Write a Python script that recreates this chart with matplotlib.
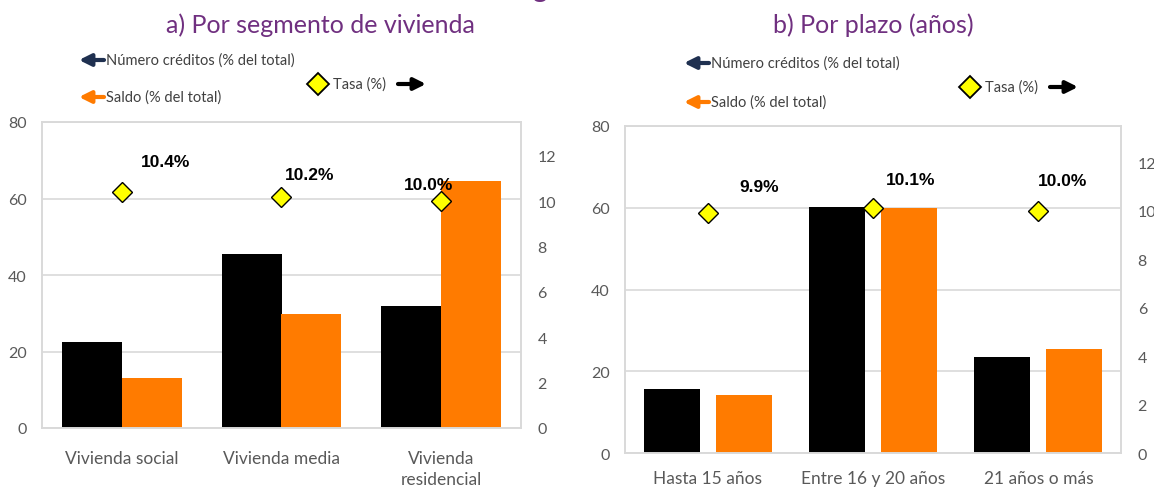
import numpy as np
import matplotlib
matplotlib.use("Agg")
import matplotlib.pyplot as plt

# --- datos ---
segmentos = ["Vivienda social", "Vivienda media", "Vivienda\nresidencial"]
num_creditos_seg = [22.5, 45.5, 31.9]
saldo_seg = [13.0, 29.9, 64.6]
tasa_seg = [10.4, 10.2, 10.0]

plazos = ["Hasta 15 años", "Entre 16 y 20 años", "21 años o más"]
num_creditos_plazo = [15.6, 60.3, 23.6]
saldo_plazo = [14.3, 59.9, 25.4]
tasa_plazo = [9.9, 10.1, 10.0]

# desplazamiento de las etiquetas de tasa (pixeles)
offs_seg = [(44, 31), (28, 22), (-12, 17)]
offs_plazo = [(52, 27), (38, 29), (24, 30)]

W, H = 1154, 489
NEGRO = "#000000"
NARANJA = "#FF7B00"
MORADO = "#703080"
GRIS = "#595959"
GRID = "#D9D9D9"
AZUL = "#1F3050"

plt.rcParams['font.family'] = ['Lato', 'DejaVu Sans']

fig = plt.figure(figsize=(W / 100, H / 100), dpi=100)


def px(x, y):
    return (x, H - y)


def panel(rect, cats, serie1, serie2, tasa, offs, ancho, desp, pad_x, pad_der):
    ax = fig.add_axes(rect)
    x = np.arange(len(cats))
    ax.bar(x - desp, serie1, ancho, color=NEGRO, zorder=2)
    ax.bar(x + desp, serie2, ancho, color=NARANJA, zorder=2)
    ax.set_xlim(-0.5, len(cats) - 0.5)
    ax.set_ylim(0, 80)
    ax.set_yticks([0, 20, 40, 60, 80])
    ax.yaxis.grid(True, color=GRID, lw=1.2)
    ax.set_axisbelow(True)
    ax.set_xticks(x)
    ax.set_xticklabels(cats, fontsize=12.5, color=GRIS, linespacing=1.35)
    ax.tick_params(axis='x', length=0, pad=pad_x)
    ax.tick_params(axis='y', length=0, pad=11, labelsize=11.5, labelcolor=GRIS)

    ax2 = ax.twinx()
    ax2.set_ylim(0, 13.5)
    ax2.set_yticks(range(0, 13, 2))
    ax2.tick_params(axis='y', length=0, pad=pad_der, labelsize=11.5, labelcolor=GRIS)
    ax2.plot(x, tasa, linestyle='none', marker='D', ms=10,
             mfc='#FFFF00', mec='#000000', mew=1.0, zorder=5)
    for xi, t, (dx, dy) in zip(x, tasa, offs):
        ax2.annotate(f"{t:.1f}%", (xi, t), xytext=(dx, dy),
                     textcoords='offset pixels', ha='center', va='center',
                     fontsize=12.5, fontweight='bold',
                     family=['Liberation Sans', 'DejaVu Sans'], zorder=6)
    for a in (ax, ax2):
        for s in a.spines.values():
            s.set_color(GRID)
            s.set_linewidth(1.2)
    return ax, ax2


FLECHA = '-|>,head_length=0.7,head_width=0.35'


def leyenda(x0, y_num, y_saldo, x_diam, y_tasa):
    # flechas hacia la izquierda (eje izquierdo)
    for yy, col, txt in [(y_num, AZUL, "Número créditos (% del total)"),
                         (y_saldo, NARANJA, "Saldo (% del total)")]:
        plt.annotate('', xy=px(x0, yy), xytext=px(x0 + 25, yy),
                     xycoords='figure pixels', textcoords='figure pixels',
                     arrowprops=dict(arrowstyle=FLECHA, color=col, lw=3,
                                     shrinkA=0, shrinkB=0))
        fig.text((x0 + 27) / W, 1 - yy / H, txt, fontsize=10.5, color='#404040',
                 ha='left', va='center')
    fig.lines.append(plt.Line2D([x_diam / W], [1 - y_tasa / H], transform=fig.transFigure,
                                marker='D', ms=11, mfc='#FFFF00', mec='#000000',
                                mew=1.3, linestyle='none'))
    fig.text((x_diam + 15) / W, 1 - y_tasa / H, "Tasa (%)", fontsize=10.5,
             color='#404040', ha='left', va='center')
    plt.annotate('', xy=px(x_diam + 108, y_tasa), xytext=px(x_diam + 80, y_tasa),
                 xycoords='figure pixels', textcoords='figure pixels',
                 arrowprops=dict(arrowstyle=FLECHA, color='#000000', lw=3,
                                 shrinkA=0, shrinkB=0))


ax_a, _ = panel([42.3 / W, 1 - 429 / H, 478.4 / W, 306 / H], segmentos,
                num_creditos_seg, saldo_seg, tasa_seg, offs_seg, 0.375, 0.1875, 16, 12)
ax_b, _ = panel([625 / W, 1 - 454 / H, 496 / W, 327 / H], plazos,
                num_creditos_plazo, saldo_plazo, tasa_plazo, offs_plazo, 0.34, 0.218, 12, 12)

fig.text(320 / W, 1 - 25 / H, "a) Por segmento de vivienda", fontsize=18,
         color=MORADO, ha='center', va='center')
fig.text(873 / W, 1 - 25 / H, "b) Por plazo (años)", fontsize=18,
         color=MORADO, ha='center', va='center')
# titulo general, cortado en el borde superior (como en el original)
fig.text(615 / W, 1 - 2 / H, "Características generales del financiamiento",
         fontsize=20, fontweight='bold', color=MORADO, ha='center', va='bottom')

leyenda(79, 61, 98, 318, 85)
leyenda(684, 64, 103, 970, 88)

fig.savefig("out.png", dpi=100)
